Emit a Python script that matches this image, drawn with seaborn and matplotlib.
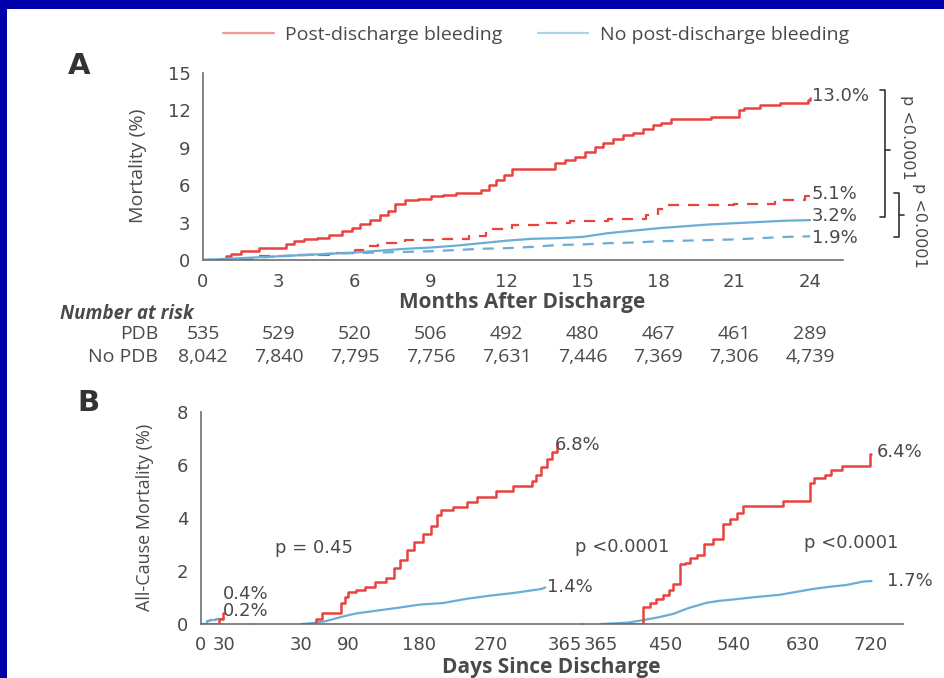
import matplotlib
matplotlib.use("Agg")
import matplotlib.pyplot as plt
import matplotlib.transforms as mtransforms
from matplotlib.lines import Line2D
from matplotlib.patches import Rectangle
import seaborn as sns

# ---- panel A: cumulative mortality (%) by months after discharge ----
# post-discharge bleeding, all deaths (steps)
pdb_m = [0, 0.9, 1.1, 1.5, 2.2, 3.3, 3.6, 4.0, 4.5, 5.0, 5.5, 5.9, 6.2, 6.6, 7.0, 7.3,
         7.6, 8.0, 8.5, 9.0, 9.5, 10.0, 11.0, 11.3, 11.6, 11.9, 12.2, 13.9, 14.3, 14.7,
         15.1, 15.5, 15.8, 16.2, 16.6, 17.0, 17.4, 17.8, 18.1, 18.5, 20.1, 21.2, 21.4,
         22.0, 22.8, 23.9, 24.0]
pdb_v = [0, 0.3, 0.5, 0.7, 1.0, 1.3, 1.5, 1.7, 1.8, 2.0, 2.3, 2.6, 2.9, 3.2, 3.6, 3.9,
         4.5, 4.8, 4.9, 5.1, 5.2, 5.4, 5.6, 6.0, 6.4, 6.8, 7.3, 7.8, 8.0, 8.3,
         8.7, 9.1, 9.4, 9.7, 10.0, 10.2, 10.5, 10.8, 11.0, 11.3, 11.5, 12.0, 12.2,
         12.4, 12.6, 12.8, 13.0]
# post-discharge bleeding, dashed curve
pdb2_m = [0, 1.0, 2.0, 3.5, 5.0, 6.0, 6.5, 6.9, 8.0, 9.5, 10.5, 11.2, 12.2, 13.4,
          14.5, 16.0, 17.5, 18.0, 18.3, 21.0, 22.6, 23.8, 24.0]
pdb2_v = [0, 0.1, 0.3, 0.4, 0.6, 0.8, 1.1, 1.4, 1.6, 1.7, 1.9, 2.5, 2.8, 2.95,
          3.1, 3.3, 3.6, 4.1, 4.4, 4.5, 4.8, 5.1, 5.1]
# no post-discharge bleeding
nopdb_m = list(range(0, 25))
nopdb_v = [0, 0.1, 0.2, 0.3, 0.4, 0.5, 0.6, 0.75, 0.9, 1.0, 1.15, 1.35, 1.55, 1.7,
           1.75, 1.85, 2.15, 2.35, 2.55, 2.7, 2.85, 2.95, 3.05, 3.15, 3.2]
nopdb2_v = [0, 0.05, 0.15, 0.3, 0.4, 0.5, 0.55, 0.6, 0.65, 0.7, 0.8, 0.9, 0.95, 1.05,
            1.2, 1.25, 1.35, 1.4, 1.5, 1.55, 1.6, 1.65, 1.75, 1.85, 1.9]

end_labels_a = ["13.0%", "5.1%", "3.2%", "1.9%"]

# number at risk
risk_months = [0, 3, 6, 9, 12, 15, 18, 21, 24]
risk_pdb = ["535", "529", "520", "506", "492", "480", "467", "461", "289"]
risk_nopdb = ["8,042", "7,840", "7,795", "7,756", "7,631", "7,446", "7,369", "7,306", "4,739"]

# ---- panel B: landmark analysis, days since discharge ----
b1_pdb_d = [0, 20, 24, 28, 30]
b1_pdb_v = [0, 0, 0.2, 0.4, 0.4]
b1_no_d = [0, 8, 12, 20, 30]
b1_no_v = [0, 0.1, 0.15, 0.2, 0.2]

b2_pdb_d = [30, 49, 56, 80, 85, 89, 100, 111, 124, 137, 148, 155, 164, 173, 184, 195,
            202, 208, 222, 240, 253, 277, 299, 323, 328, 335, 342, 348, 355]
b2_pdb_v = [0, 0.2, 0.4, 0.8, 1.0, 1.2, 1.3, 1.4, 1.6, 1.75, 2.1, 2.4, 2.8, 3.1, 3.4, 3.7,
            4.1, 4.3, 4.4, 4.6, 4.8, 5.0, 5.2, 5.4, 5.6, 5.9, 6.2, 6.5, 6.8]
b2_no_d = [30, 40, 60, 85, 100, 150, 180, 210, 240, 270, 300, 335, 340]
b2_no_v = [0, 0.02, 0.1, 0.3, 0.4, 0.6, 0.73, 0.79, 0.95, 1.07, 1.17, 1.32, 1.38]

b3_pdb_d = [365, 420, 429, 438, 447, 454, 460, 469, 476, 482, 491, 500, 513, 526, 535,
            544, 552, 605, 640, 645, 660, 668, 682, 719, 720]
b3_pdb_v = [0, 0.65, 0.8, 0.95, 1.1, 1.3, 1.5, 2.25, 2.3, 2.5, 2.6, 3.0, 3.2, 3.75, 3.95,
            4.2, 4.45, 4.65, 5.3, 5.5, 5.6, 5.8, 5.95, 6.4, 6.4]
b3_no_d = [365, 400, 421, 440, 460, 480, 504, 520, 544, 570, 600, 620, 644, 665, 688, 710, 721]
b3_no_v = [0, 0.05, 0.15, 0.25, 0.38, 0.6, 0.8, 0.87, 0.94, 1.02, 1.1, 1.2, 1.32, 1.4,
           1.47, 1.6, 1.62]

seg_ticks = [[0, 30], [30, 90, 180, 270, 365], [365, 450, 540, 630, 720]]

RED = "#e8433f"
BLUE = "#6aaed6"
TXT = "#4a4a4a"
SPINE = "#6e6e6e"
W, H = 944, 678

sns.set_style("white")
plt.rcParams["font.family"] = ["DejaVu Sans"]
NARROW = "Open Sans"


def fx(x):
    return x / W


def fy(y):
    return 1 - y / H


def style(ax, left=True):
    sns.despine(ax=ax, left=not left)
    for s in ["bottom", "left"]:
        ax.spines[s].set_color(SPINE)
        ax.spines[s].set_linewidth(1.2)
    ax.tick_params(axis="both", direction="out", length=4, width=1, color=SPINE,
                   labelcolor=TXT, labelsize=13, pad=5)
    ax.patch.set_visible(False)
    ax.set_xlabel("")
    ax.set_ylabel("")


fig = plt.figure(figsize=(9.44, 6.78), dpi=100)
fig.patch.set_facecolor("#0000aa")
fig.add_artist(Rectangle((fx(7), 0), 1 - fx(7), fy(9), transform=fig.transFigure,
                         facecolor="white", edgecolor="none", zorder=-5))

# legend
handles = [Line2D([], [], color=RED, alpha=0.55, lw=1.6),
           Line2D([], [], color=BLUE, alpha=0.55, lw=1.6)]
fig.legend(handles, ["Post-discharge bleeding", "No post-discharge bleeding"],
           loc="center", bbox_to_anchor=(fx(536), fy(35)), ncol=2, frameon=False,
           handlelength=2.6, columnspacing=1.8, handletextpad=0.6,
           prop={"family": NARROW, "size": 14}, labelcolor=TXT)

# ---- panel A ----
axA = fig.add_axes([fx(203), fy(260), fx(843) - fx(203), fy(73) - fy(260)])
sns.lineplot(x=pdb_m, y=pdb_v, ax=axA, color=RED, lw=1.8, drawstyle="steps-post",
             estimator=None)
sns.lineplot(x=pdb2_m, y=pdb2_v, ax=axA, color=RED, lw=1.6, drawstyle="steps-post",
             estimator=None, linestyle=(0, (5, 4)))
sns.lineplot(x=nopdb_m, y=nopdb_v, ax=axA, color=BLUE, lw=1.6, estimator=None)
sns.lineplot(x=nopdb_m, y=nopdb2_v, ax=axA, color=BLUE, lw=1.6, estimator=None,
             linestyle=(0, (5, 4)))
axA.set_xlim(0, 25.3)
axA.set_ylim(0, 15)
axA.set_xticks(risk_months)
axA.set_yticks([0, 3, 6, 9, 12, 15])
style(axA)

fig.text(fx(68), fy(66), "A", fontsize=21, fontweight="bold", color="#333333",
         ha="left", va="center")
fig.text(fx(138), fy(166), "Mortality (%)", rotation=90, ha="center", va="center",
         fontsize=14, family=NARROW, color=TXT)
fig.text(fx(522), fy(303), "Months After Discharge", ha="center", va="center",
         fontsize=15, family=NARROW, fontweight="bold", color=TXT)

for lab, ypx in zip(end_labels_a, [96, 194, 216, 238]):
    fig.text(fx(812), fy(ypx), lab, ha="left", va="center", fontsize=13, color=TXT)

# brackets with p values
br = dict(color="#333333", lw=1.2, transform=fig.transFigure)
fig.add_artist(Line2D([fx(880), fx(885), fx(885), fx(880)],
                      [fy(90), fy(90), fy(217), fy(217)], **br))
fig.add_artist(Line2D([fx(885), fx(890)], [fy(150), fy(150)], **br))
fig.add_artist(Line2D([fx(894), fx(899), fx(899), fx(894)],
                      [fy(193), fy(193), fy(237), fy(237)], **br))
fig.add_artist(Line2D([fx(899), fx(904)], [fy(215), fy(215)], **br))
fig.text(fx(908), fy(137), "p <0.0001", rotation=-90, ha="center", va="center",
         fontsize=11.5, color=TXT)
fig.text(fx(919), fy(225), "p <0.0001", rotation=-90, ha="center", va="center",
         fontsize=11.5, color=TXT)

# number at risk table
fig.text(fx(60), fy(314), "Number at risk", ha="left", va="center", fontsize=13.5,
         family=NARROW, fontweight="bold", style="italic", color=TXT)
fig.text(fx(158), fy(334), "PDB", ha="right", va="center", fontsize=14,
         family=NARROW, color=TXT)
fig.text(fx(158), fy(357), "No PDB", ha="right", va="center", fontsize=14,
         family=NARROW, color=TXT)
trans = mtransforms.blended_transform_factory(axA.transData, fig.transFigure)
for m, a, b in zip(risk_months, risk_pdb, risk_nopdb):
    axA.text(m, fy(334), a, transform=trans, ha="center", va="center", fontsize=14,
             family=NARROW, color=TXT)
    axA.text(m, fy(357), b, transform=trans, ha="center", va="center", fontsize=14,
             family=NARROW, color=TXT)

# ---- panel B ----
bB = fy(624)
hB = fy(411.7) - fy(624)
ax1 = fig.add_axes([fx(201), bB, fx(250) - fx(201), hB])
ax2 = fig.add_axes([fx(250), bB, fx(583) - fx(250), hB])
ax3 = fig.add_axes([fx(583), bB, fx(903) - fx(583), hB])

segs = [(ax1, b1_pdb_d, b1_pdb_v, b1_no_d, b1_no_v, True),
        (ax2, b2_pdb_d, b2_pdb_v, b2_no_d, b2_no_v, False),
        (ax3, b3_pdb_d, b3_pdb_v, b3_no_d, b3_no_v, False)]
for ax, pd_d, pd_v, no_d, no_v, steps in segs:
    sns.lineplot(x=no_d, y=no_v, ax=ax, color=BLUE, lw=1.6, estimator=None,
                 drawstyle="steps-post" if steps else "default")
    sns.lineplot(x=pd_d, y=pd_v, ax=ax, color=RED, lw=1.8, estimator=None,
                 drawstyle="steps-post")

ax1.set_xlim(0, 63.6)
ax2.set_xlim(-35.3, 387.8)
ax3.set_xlim(341.3, 762.4)
for i, ax in enumerate([ax1, ax2, ax3]):
    ax.set_ylim(0, 8)
    ax.set_xticks(seg_ticks[i])
    style(ax, left=(i == 0))
    if i == 0:
        ax.set_yticks([0, 2, 4, 6, 8])
    else:
        ax.set_yticks([])

fig.text(fx(77), fy(403), "B", fontsize=21, fontweight="bold", color="#333333",
         ha="left", va="center")
fig.text(fx(145), fy(517), "All-Cause Mortality (%)", rotation=90, ha="center",
         va="center", fontsize=13, family=NARROW, color=TXT)
fig.text(fx(551), fy(667), "Days Since Discharge", ha="center", va="center",
         fontsize=15, family=NARROW, fontweight="bold", color=TXT)

for lab, xp, yp in [("0.4%", 223, 594), ("0.2%", 223, 611), ("6.8%", 555, 445),
                    ("1.4%", 547, 587), ("6.4%", 877, 452), ("1.7%", 887, 581)]:
    fig.text(fx(xp), fy(yp), lab, ha="left", va="center", fontsize=13, color=TXT)
for lab, xp, yp in [("p = 0.45", 314, 548), ("p <0.0001", 622, 547),
                    ("p <0.0001", 851, 543)]:
    fig.text(fx(xp), fy(yp), lab, ha="center", va="center", fontsize=13, color=TXT)

fig.savefig("out.png", dpi=100, facecolor=fig.get_facecolor())
